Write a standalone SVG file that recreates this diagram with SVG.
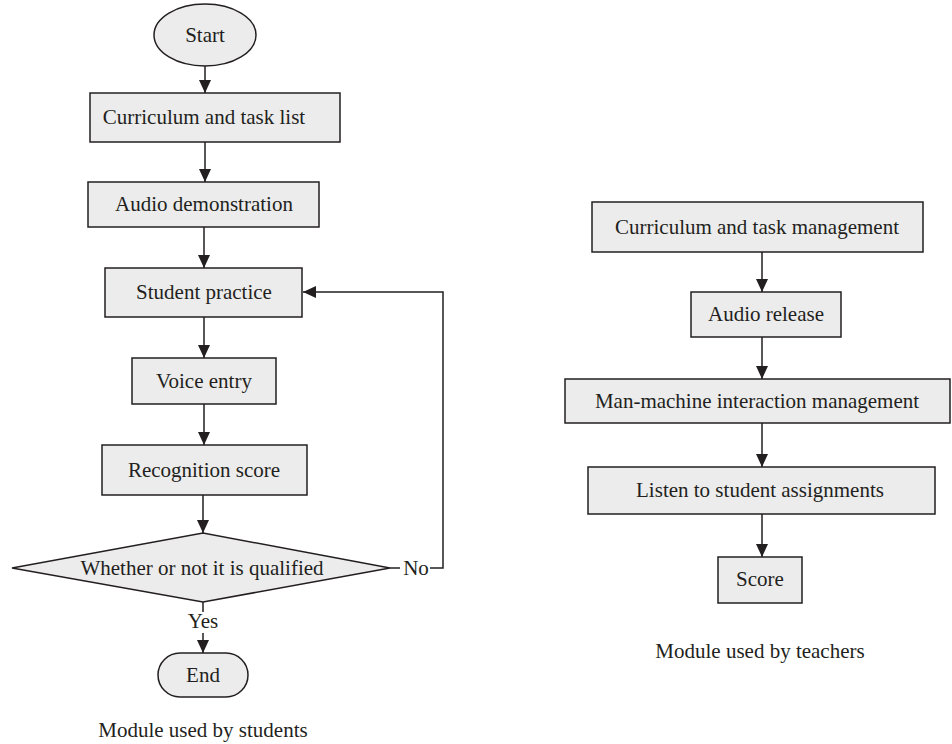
<svg xmlns="http://www.w3.org/2000/svg" width="952" height="744" viewBox="0 0 952 744">
<style>
.n{fill:#ececec;stroke:#231f20;stroke-width:1.5}
.t{font-family:"Liberation Serif","Times New Roman",serif;font-size:21px;fill:#231f20;text-anchor:middle}
.c{fill:none;stroke:#231f20;stroke-width:1.5}
</style>
<defs>
<marker id="ah" markerUnits="userSpaceOnUse" markerWidth="13" markerHeight="13" viewBox="0 0 13 12" refX="13" refY="6" orient="auto">
<path d="M0,0 L13,6 L0,12 z" fill="#231f20"/>
</marker>
</defs>
<rect width="952" height="744" fill="#fff"/>
<g id="connectors">
<line class="c" x1="205" y1="66" x2="205" y2="93" marker-end="url(#ah)"/>
<line class="c" x1="205" y1="142" x2="205" y2="182" marker-end="url(#ah)"/>
<line class="c" x1="204" y1="227" x2="204" y2="268" marker-end="url(#ah)"/>
<line class="c" x1="204" y1="317" x2="204" y2="358" marker-end="url(#ah)"/>
<line class="c" x1="204" y1="404" x2="204" y2="445" marker-end="url(#ah)"/>
<line class="c" x1="203" y1="495" x2="203" y2="533" marker-end="url(#ah)"/>
<line class="c" x1="203" y1="602" x2="203" y2="612"/>
<line class="c" x1="203" y1="633" x2="203" y2="653" marker-end="url(#ah)"/>
<line class="c" x1="390" y1="568" x2="400" y2="568"/>
<polyline class="c" points="430,568 443,568 443,292 303,292" marker-end="url(#ah)"/>
<line class="c" x1="762" y1="252" x2="762" y2="292" marker-end="url(#ah)"/>
<line class="c" x1="762" y1="337" x2="762" y2="379" marker-end="url(#ah)"/>
<line class="c" x1="762" y1="423" x2="762" y2="467" marker-end="url(#ah)"/>
<line class="c" x1="762" y1="514" x2="762" y2="557" marker-end="url(#ah)"/>
<text class="t" x="416" y="575">No</text>
<text class="t" x="203" y="628">Yes</text>
</g>
<g id="start"><ellipse class="n" cx="205" cy="35" rx="51" ry="31"/><text class="t" x="205" y="42">Start</text></g>
<g id="curriculum-task-list"><rect class="n" x="90" y="93" width="250" height="49"/><text class="t" x="204" y="124">Curriculum and task list</text></g>
<g id="audio-demonstration"><rect class="n" x="88" y="182" width="231" height="45"/><text class="t" x="204" y="211">Audio demonstration</text></g>
<g id="student-practice"><rect class="n" x="105" y="268" width="197" height="49"/><text class="t" x="204" y="299">Student practice</text></g>
<g id="voice-entry"><rect class="n" x="132" y="358" width="144" height="46"/><text class="t" x="204" y="388">Voice entry</text></g>
<g id="recognition-score"><rect class="n" x="102" y="445" width="205" height="50"/><text class="t" x="204" y="477">Recognition score</text></g>
<g id="qualified"><polygon class="n" points="12,568 203,533 390,568 203,602"/><text class="t" x="202" y="575">Whether or not it is qualified</text></g>
<g id="end"><rect class="n" x="158" y="653" width="90" height="44" rx="22" ry="22"/><text class="t" x="203" y="682">End</text></g>
<g id="caption-students"><text class="t" x="203" y="737">Module used by students</text></g>
<g id="curriculum-task-management"><rect class="n" x="592" y="202" width="331" height="50"/><text class="t" x="757" y="234">Curriculum and task management</text></g>
<g id="audio-release"><rect class="n" x="691" y="292" width="150" height="45"/><text class="t" x="766" y="321">Audio release</text></g>
<g id="man-machine"><rect class="n" x="565" y="379" width="385" height="44"/><text class="t" x="757" y="408">Man-machine interaction management</text></g>
<g id="listen"><rect class="n" x="588" y="467" width="347" height="47"/><text class="t" x="760" y="497">Listen to student assignments</text></g>
<g id="score"><rect class="n" x="718" y="557" width="84" height="46"/><text class="t" x="760" y="586">Score</text></g>
<g id="caption-teachers"><text class="t" x="760" y="658">Module used by teachers</text></g>
</svg>
